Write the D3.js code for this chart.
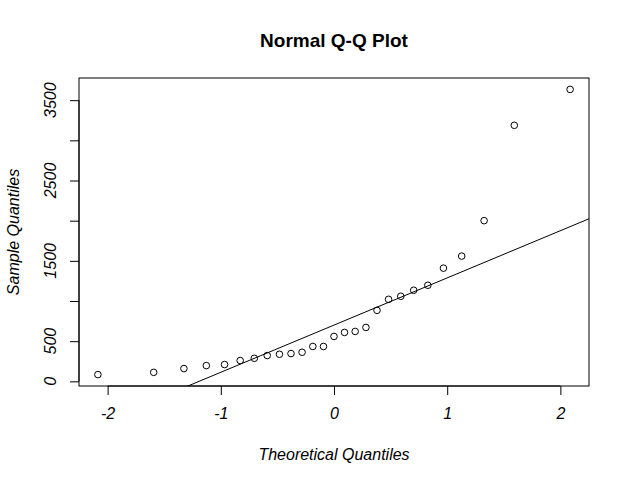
<!DOCTYPE html>
<html>
<head>
<meta charset="utf-8">
<script src="https://cdn.jsdelivr.net/npm/d3@7"></script>
<style>
  body { margin: 0; background: #fff; }
  svg text { font-family: "Liberation Sans", Arial, sans-serif; fill: #000; }
</style>
</head>
<body>
<svg width="630" height="484"></svg>
<script>
// theoretical quantiles (normal, n = 27) and the sorted sample values
const theoretical = [-2.086, -1.593, -1.326, -1.128, -0.967, -0.829, -0.704, -0.590, -0.482,
  -0.380, -0.282, -0.187, -0.093, 0, 0.093, 0.187, 0.282, 0.380, 0.482, 0.590, 0.704,
  0.829, 0.967, 1.128, 1.326, 1.593, 2.086];
const sample = [84, 112, 159, 196, 209, 259, 287, 321, 337, 346, 362, 434, 434, 559, 609,
  621, 671, 884, 1021, 1059, 1134, 1196, 1409, 1559, 2000, 3187, 3634];
const xTicks = [-2, -1, 0, 1, 2];
const yTicks = [0, 500, 1000, 1500, 2000, 2500, 3000, 3500];
const yLabels = [0, 500, 1500, 2500, 3500];

const svg = d3.select("svg");
const plotL = 79, plotR = 589, plotT = 78, plotB = 386;

// R style: extend the data range by 4% on each side
function pad(ext) {
    const d = (ext[1] - ext[0]) * 0.04;
    return [ext[0] - d, ext[1] + d];
}

const x = d3.scaleLinear().domain(pad(d3.extent(theoretical))).range([plotL, plotR]);
const y = d3.scaleLinear().domain(pad(d3.extent(sample))).range([plotB, plotT]);

svg.append("clipPath").attr("id", "box")
    .append("rect")
    .attr("x", plotL).attr("y", plotT)
    .attr("width", plotR - plotL).attr("height", plotB - plotT);

// qqline through the first and third quartiles
const q1 = d3.quantile(sample, 0.25), q3 = d3.quantile(sample, 0.75);
const slope = (q3 - q1) / (2 * 0.6744898);
const intercept = (q1 + q3) / 2;
const xd = x.domain();
svg.append("line")
    .attr("clip-path", "url(#box)")
    .attr("x1", x(xd[0])).attr("y1", y(intercept + slope * xd[0]))
    .attr("x2", x(xd[1])).attr("y2", y(intercept + slope * xd[1]))
    .attr("stroke", "#000").attr("stroke-width", 1);

svg.selectAll("circle")
    .data(sample)
    .enter().append("circle")
    .attr("cx", (d, i) => x(theoretical[i]))
    .attr("cy", d => y(d))
    .attr("r", 3.3)
    .attr("fill", "none")
    .attr("stroke", "#000")
    .attr("stroke-width", 1);

// plot box
svg.append("rect")
    .attr("x", plotL).attr("y", plotT)
    .attr("width", plotR - plotL).attr("height", plotB - plotT)
    .attr("fill", "none").attr("stroke", "#000").attr("stroke-width", 1);

// x axis (plain hyphen for negatives, like R)
const xAxis = svg.append("g")
    .attr("transform", `translate(0,${plotB})`)
    .call(d3.axisBottom(x).tickValues(xTicks).tickSize(9).tickPadding(13).tickFormat(d => String(d)));
xAxis.select(".domain")
    .attr("d", `M${x(xTicks[0])},0H${x(xTicks[xTicks.length - 1])}`);
xAxis.selectAll("text")
    .attr("font-size", 16).attr("font-style", "italic")
    .style("font-family", "Liberation Sans, Arial, sans-serif");

// y axis
const yAxis = svg.append("g")
    .attr("transform", `translate(${plotL},0)`)
    .call(d3.axisLeft(y).tickValues(yTicks).tickSize(9).tickFormat(""));
yAxis.select(".domain")
    .attr("d", `M0,${y(yTicks[0])}V${y(yTicks[yTicks.length - 1])}`);

svg.selectAll(".ylab")
    .data(yLabels)
    .enter().append("text")
    .attr("class", "ylab")
    .attr("transform", d => `translate(56,${y(d)}) rotate(-90)`)
    .attr("text-anchor", "middle")
    .attr("font-size", 16)
    .attr("font-style", "italic")
    .text(d => d);

// titles
svg.append("text")
    .attr("x", (plotL + plotR) / 2).attr("y", 47)
    .attr("text-anchor", "middle")
    .attr("font-size", 19).attr("font-weight", "bold")
    .text("Normal Q-Q Plot");

svg.append("text")
    .attr("x", (plotL + plotR) / 2).attr("y", 460)
    .attr("text-anchor", "middle")
    .attr("font-size", 16).attr("font-style", "italic")
    .text("Theoretical Quantiles");

svg.append("text")
    .attr("transform", `translate(19,${(plotT + plotB) / 2}) rotate(-90)`)
    .attr("text-anchor", "middle")
    .attr("font-size", 16).attr("font-style", "italic")
    .text("Sample Quantiles");
</script>
</body>
</html>
